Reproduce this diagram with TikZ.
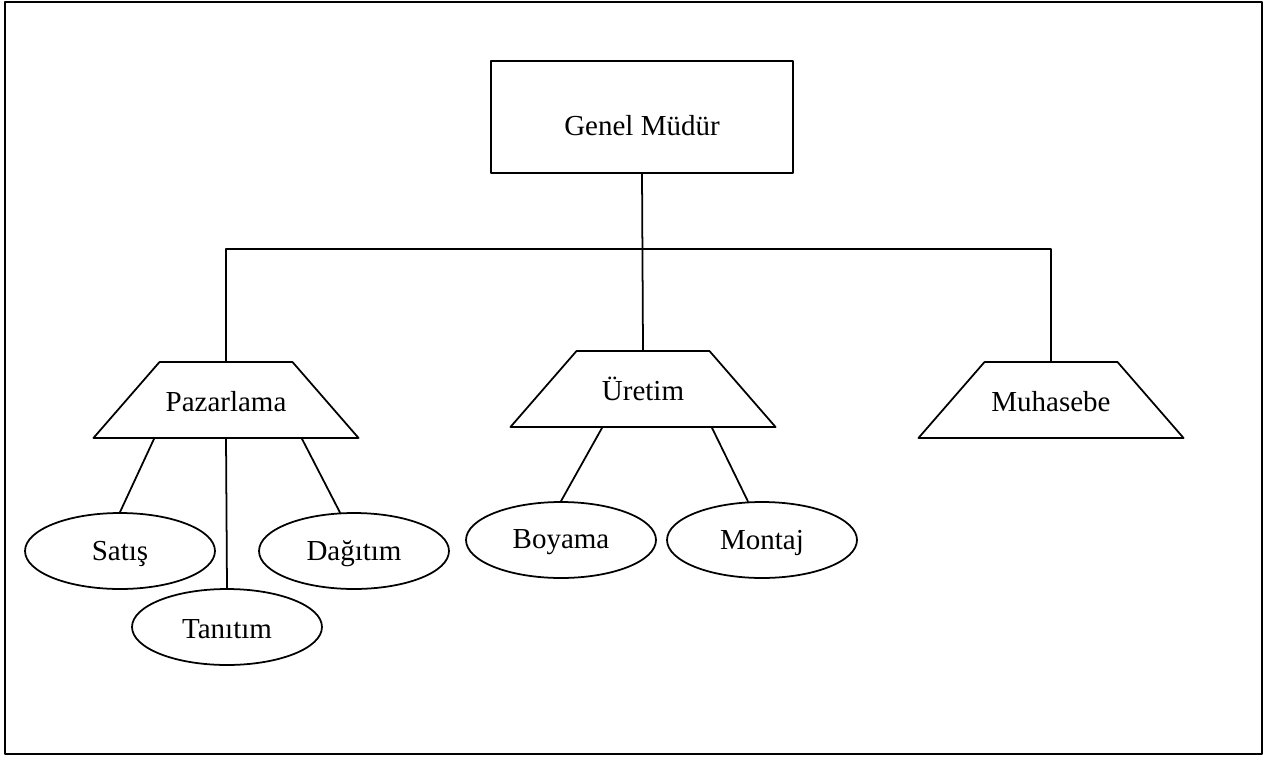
\documentclass[tikz,border=0pt]{standalone}
\usepackage{fontspec}
\setmainfont{Liberation Serif}
\usetikzlibrary{shapes.geometric}
\usetikzlibrary{calc}
\tikzstyle{every node}=[font=\fontsize{16.5}{20}\selectfont]
\tikzstyle{every path}=[line width=1pt,line cap=round,line join=round]
\tikzstyle{chief}=[draw, rectangle, minimum width=6.04cm, minimum height=2.24cm, inner sep=0pt]
\tikzstyle{dept}=[draw, trapezium, trapezium angle=49, text width=2.66cm, align=center,
  text height=0.6cm, text depth=0.14cm, inner xsep=0pt, inner ysep=0.39cm]
\tikzstyle{unit}=[draw, ellipse, minimum width=3.8cm, minimum height=1.52cm, inner sep=0pt]

\begin{document}
\begin{tikzpicture}[x=0.02cm, y=-0.02cm]
  \useasboundingbox (0,0) rectangle (1270,757);
  % frame
  \draw[line width=1.4pt] (5,2) rectangle (1262,754);

  % top
  \node[chief] (gm) at (642,117) {\raisebox{-0.18cm}[\height][\depth]{Genel Müdür}};

  % departments
  \node[dept] (paz) at (226,400) {Pazarlama};
  \node[dept] (uret) at (643,389) {Üretim};
  \node[dept] (muh) at (1051,400) {Muhasebe};

  % units
  \node[unit] (sat) at (120,551) {\raisebox{-0.05cm}[\height][\depth]{Satış}};
  \node[unit] (tan) at (227,627) {\raisebox{-0.05cm}[\height][\depth]{Tanıtım}};
  \node[unit] (dag) at (354,551) {\raisebox{-0.05cm}[\height][\depth]{Dağıtım}};
  \node[unit] (boy) at (561,540) {\raisebox{-0.05cm}[\height][\depth]{Boyama}};
  \node[unit] (mon) at (762,540) {\raisebox{-0.05cm}[\height][\depth]{Montaj}};

  % connectors
  \coordinate (bar) at ($(gm.south)+(0,75)$);
  \draw (gm.south) -- (uret.north);
  \draw (paz.north) |- (bar) -| (muh.north);

  \draw ($(paz.south)+(-72,0)$) -- (sat.north);
  \draw (paz.south) -- (tan.north);
  \draw ($(paz.south)+(76,0)$) -- (dag.110);
  \draw ($(uret.south)+(-41,0)$) -- (boy.north);
  \draw ($(uret.south)+(69,0)$) -- (mon.110);
\end{tikzpicture}
\end{document}
